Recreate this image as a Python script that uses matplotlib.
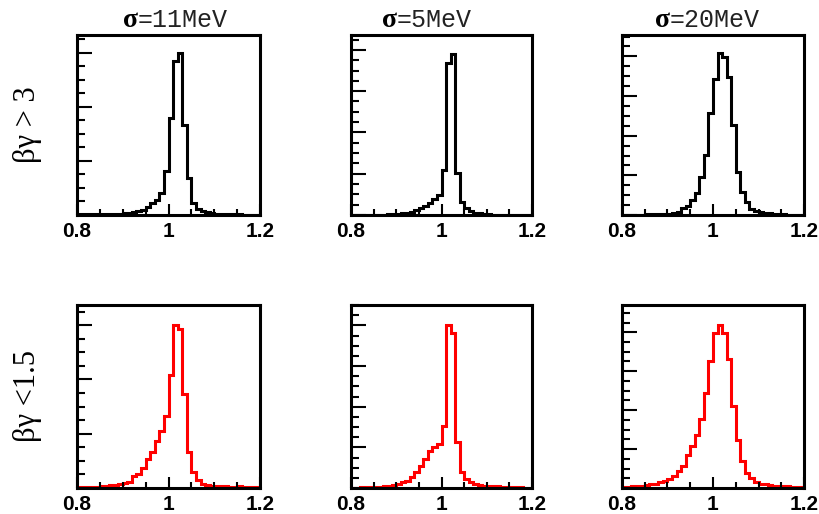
import matplotlib
matplotlib.use('Agg')
import matplotlib.pyplot as plt
from matplotlib.ticker import MultipleLocator, FixedLocator, FixedFormatter
import numpy as np

# ---- data (arbitrary counts per 0.01 bin, 0.80 .. 1.20) ----
bin_edges = np.linspace(0.80, 1.20, 41)

titles_sigma = ["11MeV", "5MeV", "20MeV"]
row_labels = ["βγ > 3", "βγ <1.5"]

top_11 = [1, 1, 1, 1, 1, 1, 1, 1, 1, 2,
          3, 4, 6, 7, 10, 15, 22, 28, 41, 82,
          179, 284, 300, 167, 68, 22, 12, 8, 5, 3,
          2, 1, 1, 1, 1, 1, 0, 0, 0, 0]
top_5 = [1, 1, 1, 1, 1, 1, 1, 1, 2, 2,
         3, 4, 6, 8, 12, 16, 22, 30, 38, 48,
         110, 368, 390, 102, 32, 16, 10, 6, 4, 2,
         2, 1, 1, 1, 1, 1, 1, 1, 1, 1]
top_20 = [1, 1, 1, 1, 1, 2, 2, 2, 3, 3,
          3, 4, 8, 17, 23, 38, 55, 97, 151, 258,
          342, 409, 399, 347, 227, 109, 59, 34, 14, 11,
          8, 6, 4, 3, 2, 2, 1, 1, 1, 1]
bot_11 = [1, 1, 2, 2, 2, 3, 4, 5, 6, 7,
          10, 11, 23, 25, 37, 53, 66, 86, 105, 132,
          208, 300, 292, 173, 66, 29, 14, 8, 5, 4,
          4, 3, 3, 2, 2, 3, 2, 2, 2, 1]
bot_5 = [1, 1, 2, 2, 2, 3, 3, 4, 6, 8,
         11, 14, 18, 27, 39, 53, 71, 90, 101, 108,
         152, 402, 380, 112, 39, 22, 14, 10, 7, 6,
         5, 4, 4, 3, 3, 2, 2, 2, 1, 1]
bot_20 = [3, 3, 4, 5, 6, 8, 9, 11, 15, 17,
          23, 32, 44, 56, 84, 109, 137, 177, 245, 325,
          398, 419, 398, 331, 211, 124, 70, 38, 26, 15,
          10, 9, 7, 6, 4, 4, 4, 3, 3, 3]

series = [[top_11, top_5, top_20], [bot_11, bot_5, bot_20]]
ymax = [[333, 436, 454], [337, 450, 470]]
row_colors = ["black", "#ff0000"]

# ---- layout (pixels in 820x514 figure) ----
W, H = 820, 514
cols_x = [(77, 260), (351, 532), (622, 804)]
rows_y = [(35, 215), (305, 488)]

fig = plt.figure(figsize=(8.2, 5.14), dpi=100)

for r, (y0, y1) in enumerate(rows_y):
    for c, (x0, x1) in enumerate(cols_x):
        ax = fig.add_axes([x0 / W, 1 - y1 / H, (x1 - x0) / W, (y1 - y0) / H])
        ax.stairs(series[r][c], bin_edges, color=row_colors[r], lw=2.2,
                  baseline=None)
        ax.set_xlim(0.8, 1.2)
        ax.set_ylim(0, ymax[r][c])
        ax.xaxis.set_major_locator(FixedLocator([0.8, 1.0, 1.2]))
        ax.xaxis.set_major_formatter(FixedFormatter(["0.8", "1", "1.2"]))
        ax.xaxis.set_minor_locator(MultipleLocator(0.05))
        ax.yaxis.set_major_locator(MultipleLocator(100))
        ax.yaxis.set_minor_locator(MultipleLocator(25))
        ax.tick_params(axis='both', which='both', direction='in',
                       top=False, right=False, width=1.5, labelleft=False)
        ax.tick_params(axis='y', which='major', length=10.5)
        ax.tick_params(axis='y', which='minor', length=5.5)
        ax.tick_params(axis='x', which='major', length=8, pad=5,
                       labelsize=15)
        ax.tick_params(axis='x', which='minor', length=4)
        for lab in ax.get_xticklabels():
            lab.set_fontfamily('Liberation Sans')
            lab.set_fontweight('bold')
        for sp in ax.spines.values():
            sp.set_linewidth(2.2)

# ---- column titles ----
title_split_x = [138, 397, 670]
for c, txt in enumerate(titles_sigma):
    xs = title_split_x[c] / W
    yb = 1 - 27 / H
    fig.text(xs, yb, "σ", ha='right', va='baseline',
             family='Liberation Serif', weight='bold', size=20)
    fig.text(xs, yb, "=" + txt, ha='left', va='baseline',
             family='Liberation Mono', size=18, color='#222222')

# ---- row labels ----
for r, (y0, y1) in enumerate(rows_y):
    fig.text(28 / W, 1 - ((y0 + y1) / 2) / H, row_labels[r], rotation=90,
             ha='center', va='center', family='Liberation Serif', size=22)

fig.savefig("out.png", dpi=100)
